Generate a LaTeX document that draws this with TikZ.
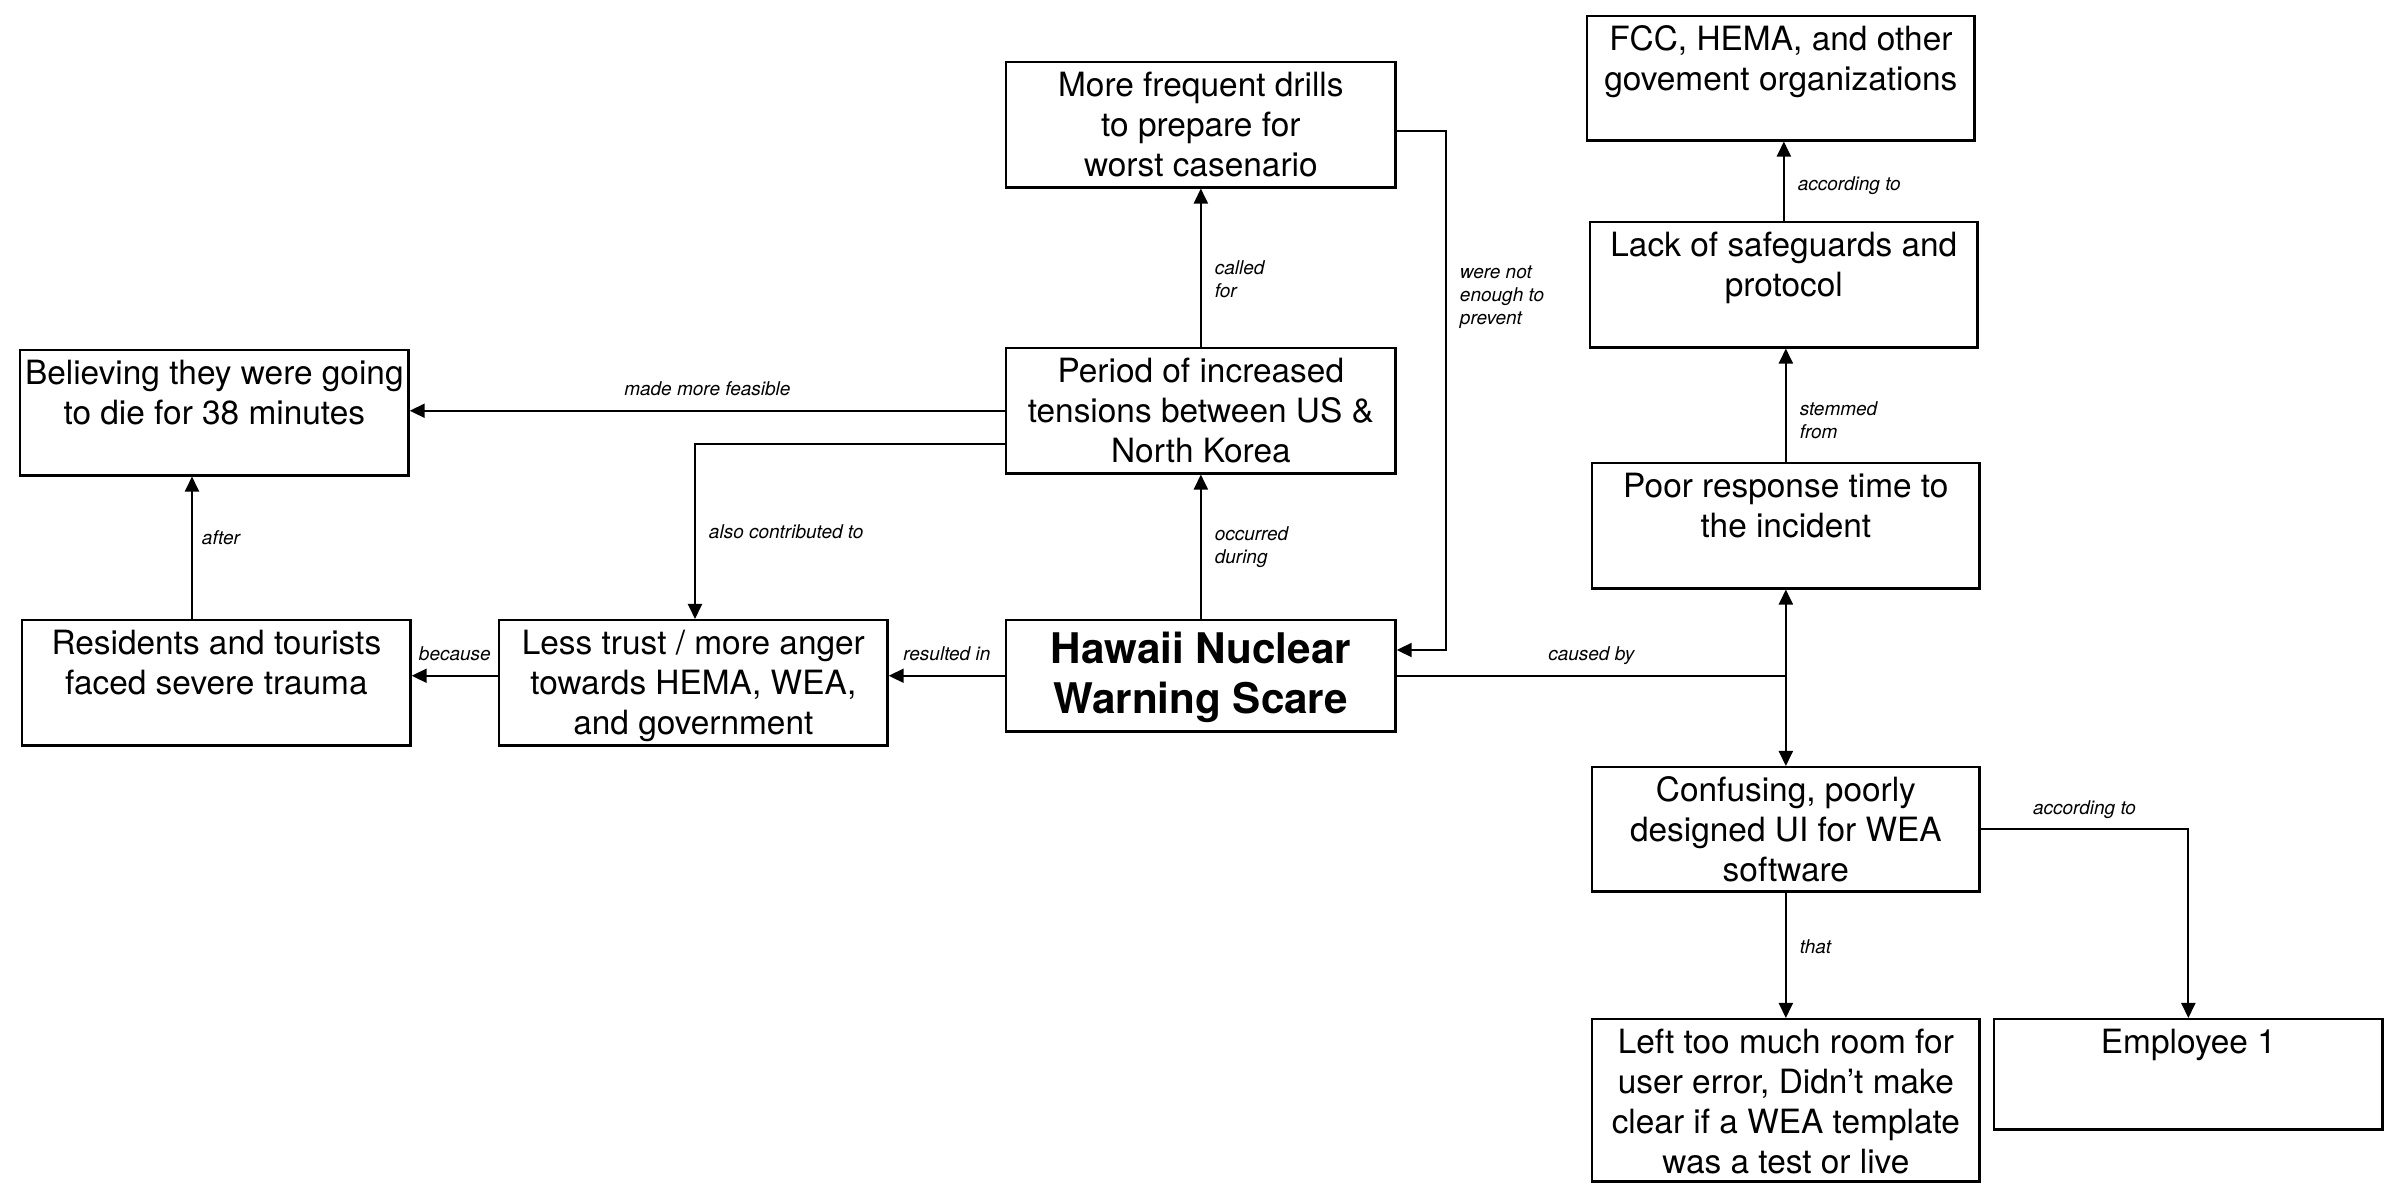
\documentclass[tikz,border=0pt]{standalone}
\usepackage{fontspec}
\setmainfont{TeX Gyre Heros}
\usetikzlibrary{arrows.meta,positioning}
% box text: lines hang from the top edge
\newcommand{\boxlines}[4][0.34cm]{\parbox[t][#3][t]{#2}{\centering\rule{0pt}{#1}#4}}

\begin{document}
\begin{tikzpicture}[x=0.01cm, y=-0.01cm,
  cbox/.style={draw, line width=0.7pt, inner sep=0pt, anchor=north west, font=\fontsize{9.5}{11.4}\selectfont},
  conn/.style={line width=0.55pt},
  arr/.style={conn, -{Triangle[length=1.5mm, width=1.4mm]}},
  lbl/.style={font=\fontsize{5.4}{6.5}\selectfont\itshape, inner sep=0pt, align=left},
  lblup/.style={lbl, anchor=base, yshift=1.5mm}]
  \useasboundingbox (0,0) rectangle (2400,1198);

  % boxes
  \node[cbox] (drills) at (1005,61) {\boxlines{3.89cm}{1.25cm}{More frequent drills\\to prepare for\\worst casenario}};
  \node[cbox] (period) at (1005,347) {\boxlines{3.89cm}{1.25cm}{Period of increased\\tensions between US \&\\North Korea}};
  \node[cbox] (believing) at (19,349) {\boxlines{3.88cm}{1.25cm}{Believing they were going\\to die for 38 minutes}};
  \node[cbox] (residents) at (21,619) {\boxlines{3.88cm}{1.25cm}{Residents and tourists\\faced severe trauma}};
  \node[cbox] (lesstrust) at (498,619) {\boxlines{3.88cm}{1.25cm}{Less trust / more anger\\towards HEMA, WEA,\\and government}};
  \node[cbox] (hawaii) at (1005,619) {\boxlines[0.43cm]{3.89cm}{1.11cm}{\fontsize{12}{14.2}\selectfont\bfseries Hawaii Nuclear\\Warning Scare}};
  \node[cbox] (fcc) at (1586,15) {\boxlines{3.87cm}{1.24cm}{FCC, HEMA, and other\\govement organizations}};
  \node[cbox] (lack) at (1589,221) {\boxlines{3.87cm}{1.25cm}{Lack of safeguards and\\protocol}};
  \node[cbox] (poor) at (1591,462) {\boxlines{3.87cm}{1.25cm}{Poor response time to\\the incident}};
  \node[cbox] (confusing) at (1591,766) {\boxlines{3.87cm}{1.24cm}{Confusing, poorly\\designed UI for WEA\\software}};
  \node[cbox] (lefttoo) at (1591,1018) {\boxlines{3.87cm}{1.62cm}{Left too much room for\\user error, Didn’t make\\clear if a WEA template\\was a test or live}};
  \node[cbox] (employee) at (1993,1018) {\boxlines{3.88cm}{1.10cm}{Employee 1}};

  % turning points
  \coordinate (tensturn) at (695,444);
  \coordinate (afterx) at (192,0);
  \coordinate (drillturn) at (1446,131);
  \coordinate (drillend) at (1446,650);
  \coordinate (cause) at (poor.south |- hawaii.east);

  % connectors
  \draw[arr] (period.north) -- node[lbl, pos=0.43, right=1.3mm]{called\\for} (period.north |- drills.south);
  \draw[arr] (hawaii.north) -- node[lbl, midway, right=1.3mm]{occurred\\during} (hawaii.north |- period.south);
  \draw[arr] (period.west) -- node[lblup, midway]{made more feasible} (period.west -| believing.east);
  \draw[arr] (period.west |- tensturn) -- (tensturn) -- node[lbl, midway, right=1.3mm]{also contributed to} (tensturn |- lesstrust.north);
  \draw[arr] (residents.north -| afterx) -- node[lbl, pos=0.57, right=0.9mm]{after} (believing.south -| afterx);
  \draw[arr] (hawaii.west) -- node[lblup, midway]{resulted in} (hawaii.west -| lesstrust.east);
  \draw[arr] (lesstrust.west |- hawaii.west) -- node[lblup, midway]{because} (residents.east |- hawaii.west);
  \draw[arr] (drills.east |- drillturn) -- (drillturn) -- node[lbl, pos=0.32, right=1.3mm]{were not\\enough to\\prevent} (drillend) -- (hawaii.east |- drillend);
  \draw[conn] (hawaii.east) -- node[lblup, midway]{caused by} (cause);
  \draw[arr] (cause) -- (poor.south);
  \draw[arr] (cause) -- (confusing.north);
  \draw[arr] (poor.north) -- node[lbl, pos=0.37, right=1.3mm]{stemmed\\from} (poor.north |- lack.south);
  \draw[arr] (lack.north) -- node[lbl, pos=0.44, right=1.3mm]{according to} (lack.north |- fcc.south);
  \draw[arr] (confusing.south) -- node[lbl, pos=0.43, right=1.3mm]{that} (confusing.south |- lefttoo.north);
  \draw[arr] (confusing.east) -- node[lblup, midway]{according to} (confusing.east -| employee.north) -- (employee.north);
\end{tikzpicture}
\end{document}
